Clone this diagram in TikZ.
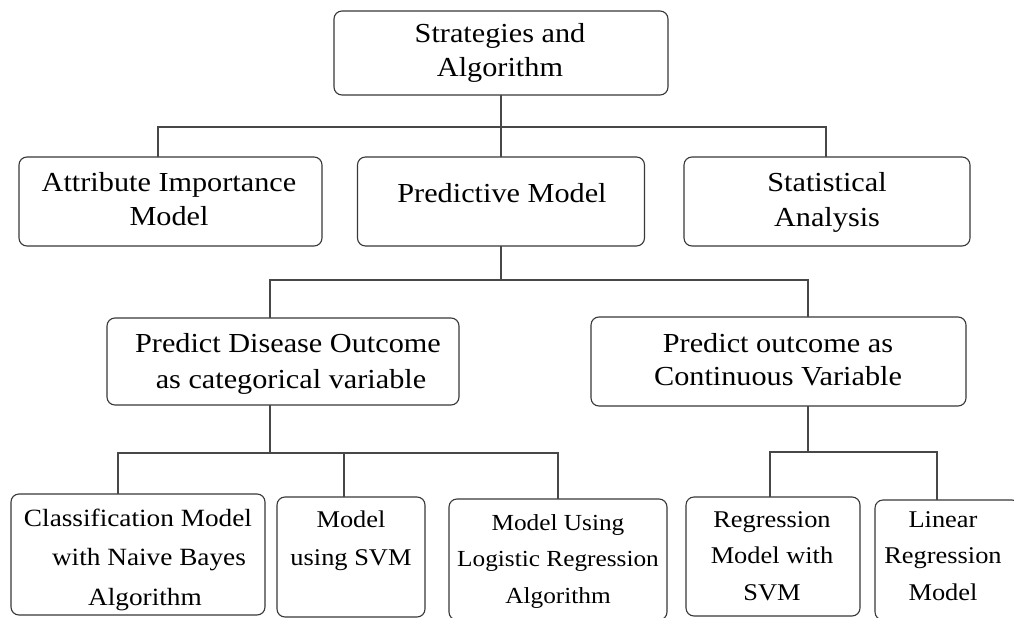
\documentclass[tikz,border=0pt]{standalone}
\usepackage{fontspec}
\setmainfont{Liberation Serif}[FakeStretch=1.1]
\begin{document}
\begin{tikzpicture}[x=1pt,y=-1pt,
  box/.style={draw=black!78, line width=1.1pt, rounded corners=8pt,
    inner sep=0pt, outer sep=0pt},
  link/.style={draw=black!72, line width=1.1pt},
  upper/.style={font=\fontsize{27.5}{33}\selectfont, align=center,
    inner sep=0pt, anchor=base},
  lower/.style={font=\fontsize{24}{36.5}\selectfont, align=center,
    inner sep=0pt, anchor=base}]

% canvas
\fill[white] (0,0) rectangle (1014,618);
\clip (0,0) rectangle (1014,618);

% boxes
\node[box, minimum width=334pt, minimum height=84pt] (top)  at (501,53) {};
\node[box, minimum width=303pt, minimum height=89pt] (attr) at (170.5,201.5) {};
\node[box, minimum width=287pt, minimum height=89pt] (pred) at (501,201.5) {};
\node[box, minimum width=286pt, minimum height=89pt] (stat) at (827,201.5) {};
\node[box, minimum width=352pt, minimum height=87pt] (dis)  at (283,361.5) {};
\node[box, minimum width=375pt, minimum height=89pt] (con)  at (778.5,361.5) {};
\node[box, minimum width=254pt, minimum height=121pt] (cls) at (138,554.5) {};
\node[box, minimum width=148pt, minimum height=120pt] (svm) at (351,557) {};
\node[box, minimum width=218pt, minimum height=121pt] (log) at (558,559.5) {};
\node[box, minimum width=174pt, minimum height=119pt] (rsv) at (773,556.5) {};
\node[box, minimum width=145pt, minimum height=120pt] (lin) at (947.5,560) {};

% labels (anchored at the baseline of their last line)
\node[upper] (tTop)  at (500,76)  {Strategies and\\Algorithm};
\node[upper, font=\fontsize{27.5}{34}\selectfont] (tAttr) at (169,225) {Attribute Importance\\Model};
\node[upper] (tPred) at (502,202) {Predictive Model};
\node[upper, font=\fontsize{27.5}{35}\selectfont] (tStat) at (827,226) {Statistical\\Analysis};
\node[upper, font=\fontsize{27.5}{36}\selectfont] (tDis)  at (288,388) {Predict Disease Outcome\\\hspace*{6pt}as categorical variable};
\node[upper] (tCon)  at (778,385) {Predict outcome as\\Continuous Variable};
\node[lower, font=\fontsize{24.8}{39.5}\selectfont] (tCls) at (138,605)
  {Classification Model\\\hspace*{22pt}with Naive Bayes\\\hspace*{14pt}Algorithm};
\node[lower, font=\fontsize{24}{38}\selectfont] (tSvm) at (351,565) {Model\\using SVM};
\node[lower, font=\fontsize{23}{36.5}\selectfont] (tLog)  at (558,603) {Model Using\\Logistic Regression\\Algorithm};
\node[lower] (tRsv)  at (772,600) {Regression\\Model with\\SVM};
\node[lower] (tLin)  at (943,600) {Linear\\Regression\\Model};

% junctions
\coordinate (j1) at (501,127);
\coordinate (j1a) at (158,127);
\coordinate (j1s) at (826,127);
\coordinate (j2) at (501,280);
\coordinate (j2d) at (270,280);
\coordinate (j2c) at (808,280);
\coordinate (j3) at (270,453);
\coordinate (j3a) at (118,453);
\coordinate (j3b) at (344,453);
\coordinate (j3c) at (558,453);
\coordinate (j4) at (808,452);
\coordinate (j4a) at (770,452);
\coordinate (j4b) at (937,452);

% connectors
\draw[link] (top.south) -- (j1) -- (pred.north);
\draw[link] (attr.north -| j1a) -- (j1a) -- (j1s) -- (stat.north -| j1s);
\draw[link] (pred.south) -- (j2);
\draw[link] (dis.north -| j2d) -- (j2d) -- (j2c) -- (con.north -| j2c);
\draw[link] (dis.south -| j3) -- (j3);
\draw[link] (cls.north -| j3a) -- (j3a) -- (j3c) -- (log.north -| j3c);
\draw[link] (j3b) -- (svm.north -| j3b);
\draw[link] (con.south -| j4) -- (j4);
\draw[link] (rsv.north -| j4a) -- (j4a) -- (j4b) -- (lin.north -| j4b);
\end{tikzpicture}
\end{document}
